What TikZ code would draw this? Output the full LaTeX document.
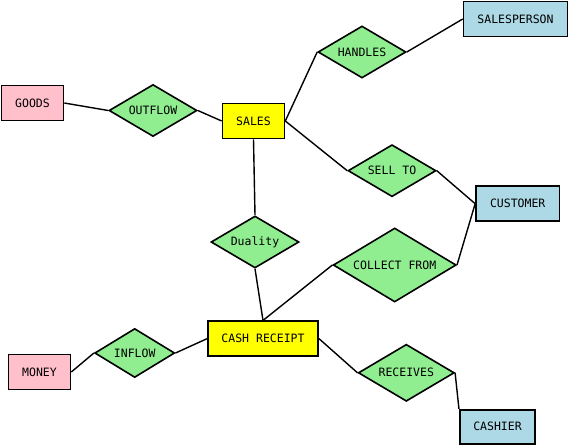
\documentclass[tikz,border=0pt]{standalone}
\usepackage{fontspec}
\newfontfamily\ermono{DejaVu Sans Mono}
\usetikzlibrary{shapes.geometric}
\definecolor{entpink}{RGB}{255,192,203}
\definecolor{relgreen}{RGB}{144,238,144}
\definecolor{evyellow}{RGB}{255,255,0}
\definecolor{agblue}{RGB}{173,216,230}

\begin{document}
\begin{tikzpicture}[x=1pt,y=-1pt,line width=1.6pt,font=\ermono\fontsize{11.5}{13}\selectfont,
  ent/.style={rectangle,draw,inner sep=0pt,minimum width=62pt,minimum height=35pt},
  rel/.style={diamond,draw,fill=relgreen,inner sep=0pt,aspect=1.7,minimum width=88pt,minimum height=52pt}]
  \useasboundingbox (0,0) rectangle (569,445);

  \node[ent,fill=entpink] (1) at (32.5,103) {GOODS};
  \node[rel] (2) at (153,110.5) {OUTFLOW};
  \node[ent,fill=evyellow] (3) at (253.5,121) {SALES};
  \node[rel] (4) at (362,52) {HANDLES};
  \node[ent,fill=agblue,minimum width=104pt] (5) at (515.5,19) {SALESPERSON};
  \node[rel] (6) at (392,170.7) {SELL TO};
  \node[ent,fill=agblue,minimum width=83.5pt] (7) at (517.7,203.7) {CUSTOMER};
  \node[rel] (8) at (255,242) {Duality};
  \node[rel,minimum width=123pt,minimum height=74pt] (9) at (394.7,265) {COLLECT FROM};
  \node[ent,fill=evyellow,minimum width=110.5pt] (10) at (263,338.7) {CASH RECEIPT};
  \node[rel,minimum width=80pt,minimum height=49pt] (11) at (134.7,353) {INFLOW};
  \node[ent,fill=entpink] (12) at (39.5,372) {MONEY};
  \node[rel,minimum width=96pt,minimum height=57pt] (13) at (406.3,372.8) {RECEIVES};
  \node[ent,fill=agblue,minimum width=75.5pt,minimum height=34pt] (14) at (497.5,426.7) {CASHIER};

  \path[line width=1.4pt]
    (1.east) edge (2.west)
    (2.east) edge (3.west)
    (3.east) edge (4.west)
    (4.east) edge (5.west)
    (3.east) edge (6.west)
    (6.east) edge (7.west)
    (3.south) edge (8.north)
    (8.south) edge (10.north)
    (10.north) edge (9.west)
    (9.east) edge (7.west)

    (12.east) edge (11.west)
    (11.east) edge (10.west)
    (10.east) edge (13.west)
    (13.east) edge (14.north west);
\end{tikzpicture}
\end{document}
